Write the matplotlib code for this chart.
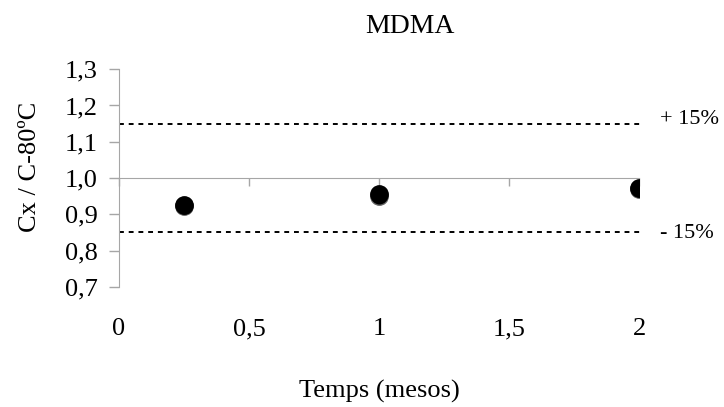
import matplotlib.pyplot as plt

# data
months = [0.25, 1, 2]
ratio_a = [0.927, 0.956, 0.973]
ratio_b = [0.924, 0.950, 0.970]
upper_limit = 1.15
lower_limit = 0.85
x_ticks = [0, 0.5, 1, 1.5, 2]
x_tick_labels = ['0', '0,5', '1', '1,5', '2']
y_ticks = [0.7, 0.8, 0.9, 1.0, 1.1, 1.2, 1.3]
y_tick_labels = ['0,7', '0,8', '0,9', '1,0', '1,1', '1,2', '1,3']

plt.rcParams['font.family'] = ['Liberation Serif', 'DejaVu Serif']
gray = '#a6a6a6'
fs = 19

fig = plt.figure(figsize=(7.24, 4.07), dpi=100)
ax = fig.add_axes([0.164, 0.295, 0.719, 0.535])

# second series sits just behind the first one
ax.plot(months, ratio_b, 'o', color='black', mec='#606060', mew=1.0, ms=12.5, zorder=3)
ax.plot(months, ratio_a, 'o', color='black', ms=12.5, zorder=4)

# +/- 15% limits
ax.axhline(upper_limit, xmax=1.01, color='black', lw=1.4, ls=(0, (2.5, 2.5)), clip_on=False)
ax.axhline(lower_limit, xmax=1.01, color='black', lw=1.4, ls=(0, (2.5, 2.5)), clip_on=False)
ax.text(2.078, upper_limit + 0.010, '+ 15%', fontsize=16, va='center', ha='left')
ax.text(2.078, lower_limit - 0.004, '- 15%', fontsize=16, va='center', ha='left')

ax.set_xlim(0, 2)
ax.set_ylim(0.7, 1.3)

for s in ['top', 'right']:
    ax.spines[s].set_visible(False)
ax.spines['left'].set_color(gray)
ax.spines['bottom'].set_color(gray)
ax.spines['bottom'].set_position(('data', 1.0))

ax.set_yticks(y_ticks)
ax.set_yticklabels(y_tick_labels, fontsize=fs)
ax.tick_params(axis='y', colors=gray, labelcolor='black', length=7, width=1, pad=8)

ax.set_xticks(x_ticks)
ax.set_xticklabels([])
ax.tick_params(axis='x', colors=gray, length=6, width=1)
# x tick labels sit below the plot area, not on the axis line
for xt, lab in zip(x_ticks, x_tick_labels):
    ax.text(xt, -0.195, lab, fontsize=fs, ha='center', va='center',
            transform=ax.get_xaxis_transform())

ax.set_title('MDMA', fontsize=20, pad=26, x=0.56)
ax.set_xlabel('Temps (mesos)', fontsize=fs)
ax.xaxis.set_label_coords(0.5, -0.425)
ax.set_ylabel('Cx / C-80ºC', fontsize=fs)
ax.yaxis.set_label_coords(-0.15, 0.55)

fig.savefig('out.png', dpi=100)
